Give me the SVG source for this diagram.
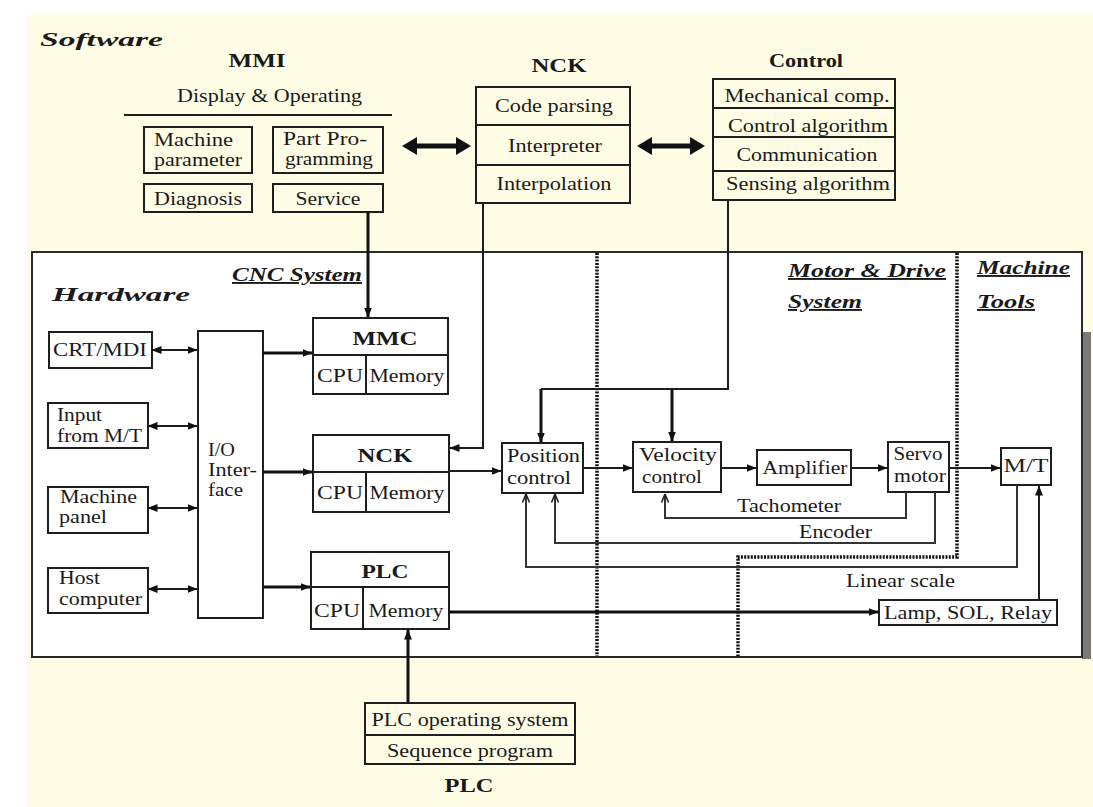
<svg xmlns="http://www.w3.org/2000/svg" width="1093" height="807" viewBox="0 0 1093 807">
<style>
.t{font-family:"Liberation Serif","Times New Roman",serif;font-size:19px;fill:#1a1a1a}
.c{text-anchor:middle}
.b{font-weight:bold}
.bi{font-weight:bold;font-style:italic}
.u{text-decoration:underline}
.box{fill:#fff;stroke:#1e1e1e;stroke-width:2}
.sbox{fill:none;stroke:#1e1e1e;stroke-width:2}
.ln{fill:none;stroke:#1e1e1e;stroke-width:2}
.thk{fill:none;stroke:#111;stroke-width:3}
.fb{fill:none;stroke:#333;stroke-width:2}
.dot{fill:none;stroke:#111;stroke-width:3.5;stroke-dasharray:2 1.3}
</style>
<defs>
<marker id="ah" viewBox="0 0 10 10" refX="9.5" refY="5" markerWidth="10" markerHeight="10" markerUnits="userSpaceOnUse" orient="auto-start-reverse"><path d="M0,1 L10,5 L0,9 z" fill="#111"/></marker>
<marker id="oh" viewBox="0 0 10 10" refX="9.5" refY="5" markerWidth="10" markerHeight="10" markerUnits="userSpaceOnUse" orient="auto"><path d="M1,1.5 L9.5,5 L1,8.5" fill="none" stroke="#222" stroke-width="1.6"/></marker>
</defs>
<rect x="0" y="0" width="1093" height="807" fill="#ffffff"/>
<rect x="27" y="14" width="1066" height="793" fill="#fffde6"/>

<g id="software-title"><text class="t bi" x="40" y="46" font-size="30" textLength="123" lengthAdjust="spacingAndGlyphs">Software</text></g>

<g id="mmi">
<text class="t b c" x="257" y="67" font-size="21" textLength="57" lengthAdjust="spacingAndGlyphs">MMI</text>
<text class="t" x="177" y="102" textLength="185" lengthAdjust="spacingAndGlyphs">Display &amp; Operating</text>
<line class="ln" x1="124" y1="115" x2="392" y2="115"/>
<g id="mmi-machine-parameter"><rect class="sbox" x="144" y="127" width="108" height="46"/>
<text class="t" x="154" y="146" font-size="17" textLength="79" lengthAdjust="spacingAndGlyphs">Machine</text>
<text class="t" x="154" y="166" font-size="17" textLength="88" lengthAdjust="spacingAndGlyphs">parameter</text></g>
<g id="mmi-part-programming"><rect class="sbox" x="273" y="127" width="110" height="46"/>
<text class="t" x="283" y="145" font-size="17" textLength="84" lengthAdjust="spacingAndGlyphs">Part Pro-</text>
<text class="t" x="285" y="165" font-size="17" textLength="88" lengthAdjust="spacingAndGlyphs">gramming</text></g>
<g id="mmi-diagnosis"><rect class="sbox" x="144" y="184" width="108" height="28"/>
<text class="t c" x="198" y="205" font-size="18" textLength="88" lengthAdjust="spacingAndGlyphs">Diagnosis</text></g>
<g id="mmi-service"><rect class="sbox" x="273" y="184" width="110" height="28"/>
<text class="t c" x="328" y="205" font-size="18" textLength="65" lengthAdjust="spacingAndGlyphs">Service</text></g>
</g>

<g id="nck-sw">
<text class="t b c" x="559" y="72" font-size="21" textLength="55" lengthAdjust="spacingAndGlyphs">NCK</text>
<rect class="sbox" x="476" y="87" width="154" height="116"/>
<line class="ln" x1="476" y1="125" x2="630" y2="125"/>
<line class="ln" x1="476" y1="165" x2="630" y2="165"/>
<text class="t c" x="554" y="112" textLength="118" lengthAdjust="spacingAndGlyphs">Code parsing</text>
<text class="t c" x="555" y="152" textLength="94" lengthAdjust="spacingAndGlyphs">Interpreter</text>
<text class="t c" x="554" y="190" textLength="115" lengthAdjust="spacingAndGlyphs">Interpolation</text>
</g>

<g id="control-sw">
<text class="t b c" x="806" y="67" font-size="19" textLength="74" lengthAdjust="spacingAndGlyphs">Control</text>
<rect class="sbox" x="713" y="79" width="182" height="121"/>
<line class="ln" x1="713" y1="108" x2="895" y2="108"/>
<line class="ln" x1="713" y1="137" x2="895" y2="137"/>
<line class="ln" x1="713" y1="171" x2="895" y2="171"/>
<text class="t c" x="807" y="102" font-size="18" textLength="165" lengthAdjust="spacingAndGlyphs">Mechanical comp.</text>
<text class="t c" x="808" y="132" font-size="18" textLength="160" lengthAdjust="spacingAndGlyphs">Control algorithm</text>
<text class="t c" x="807" y="161" font-size="18" textLength="141" lengthAdjust="spacingAndGlyphs">Communication</text>
<text class="t c" x="808" y="190" font-size="18" textLength="164" lengthAdjust="spacingAndGlyphs">Sensing algorithm</text>
</g>

<g id="hardware-frame">
<rect x="1082" y="332" width="9" height="327" fill="#7a7a7a"/>
<rect x="32" y="252" width="1050" height="405" fill="#ffffff" stroke="#2a2a2a" stroke-width="2"/>
<text class="t bi" x="52" y="301" font-size="30" textLength="138" lengthAdjust="spacingAndGlyphs">Hardware</text>
<text class="t bi u" x="232" y="281" font-size="20" textLength="130" lengthAdjust="spacingAndGlyphs">CNC System</text>
<text class="t bi u" x="788" y="277" font-size="20" textLength="158" lengthAdjust="spacingAndGlyphs">Motor &amp; Drive</text>
<text class="t bi u" x="788" y="308" font-size="20" textLength="74" lengthAdjust="spacingAndGlyphs">System</text>
<text class="t bi u" x="977" y="274" font-size="20" textLength="93" lengthAdjust="spacingAndGlyphs">Machine</text>
<text class="t bi u" x="977" y="308" font-size="20" textLength="58" lengthAdjust="spacingAndGlyphs">Tools</text>
</g>

<g id="dividers">
<line class="dot" x1="597" y1="253" x2="597" y2="656"/>
<polyline class="dot" points="957,253 957,557 738,557 738,656"/>
</g>

<g id="crt-mdi"><rect class="box" x="49" y="332" width="103" height="36"/>
<text class="t" x="53" y="356" font-size="18" textLength="94" lengthAdjust="spacingAndGlyphs">CRT/MDI</text></g>
<g id="input-mt"><rect class="box" x="48" y="403" width="100" height="45"/>
<text class="t" x="57" y="421" font-size="16" textLength="45" lengthAdjust="spacingAndGlyphs">Input</text>
<text class="t" x="57" y="442" font-size="16" textLength="85" lengthAdjust="spacingAndGlyphs">from M/T</text></g>
<g id="machine-panel"><rect class="box" x="48" y="487" width="100" height="46"/>
<text class="t" x="60" y="503" font-size="16" textLength="77" lengthAdjust="spacingAndGlyphs">Machine</text>
<text class="t" x="59" y="523" font-size="16" textLength="48" lengthAdjust="spacingAndGlyphs">panel</text></g>
<g id="host-computer"><rect class="box" x="48" y="568" width="100" height="45"/>
<text class="t" x="59" y="584" font-size="16" textLength="41" lengthAdjust="spacingAndGlyphs">Host</text>
<text class="t" x="59" y="605" font-size="16" textLength="83" lengthAdjust="spacingAndGlyphs">computer</text></g>

<g id="io-interface"><rect class="box" x="198" y="331" width="65" height="287"/>
<text class="t" x="208" y="456" font-size="17" textLength="27" lengthAdjust="spacingAndGlyphs">I/O</text>
<text class="t" x="208" y="476" font-size="17" textLength="49" lengthAdjust="spacingAndGlyphs">Inter-</text>
<text class="t" x="208" y="496" font-size="17" textLength="35" lengthAdjust="spacingAndGlyphs">face</text></g>

<g id="mmc"><rect class="box" x="313" y="318" width="135" height="76"/>
<line class="ln" x1="313" y1="355" x2="448" y2="355"/>
<line class="ln" x1="366" y1="355" x2="366" y2="394"/>
<text class="t b c" x="385" y="345" font-size="21" textLength="65" lengthAdjust="spacingAndGlyphs">MMC</text>
<text class="t c" x="340" y="382" font-size="18" textLength="46" lengthAdjust="spacingAndGlyphs">CPU</text>
<text class="t c" x="407" y="382" font-size="18" textLength="75" lengthAdjust="spacingAndGlyphs">Memory</text></g>

<g id="nck-hw"><rect class="box" x="313" y="435" width="136" height="77"/>
<line class="ln" x1="313" y1="472" x2="449" y2="472"/>
<line class="ln" x1="366" y1="472" x2="366" y2="512"/>
<text class="t b c" x="385" y="462" font-size="21" textLength="55" lengthAdjust="spacingAndGlyphs">NCK</text>
<text class="t c" x="340" y="499" font-size="18" textLength="46" lengthAdjust="spacingAndGlyphs">CPU</text>
<text class="t c" x="407" y="499" font-size="18" textLength="75" lengthAdjust="spacingAndGlyphs">Memory</text></g>

<g id="plc-hw"><rect class="box" x="311" y="552" width="138" height="77"/>
<line class="ln" x1="311" y1="587" x2="449" y2="587"/>
<line class="ln" x1="363" y1="587" x2="363" y2="629"/>
<text class="t b c" x="385" y="578" font-size="21" textLength="47" lengthAdjust="spacingAndGlyphs">PLC</text>
<text class="t c" x="337" y="617" font-size="18" textLength="46" lengthAdjust="spacingAndGlyphs">CPU</text>
<text class="t c" x="406" y="617" font-size="18" textLength="75" lengthAdjust="spacingAndGlyphs">Memory</text></g>

<g id="position-control"><rect class="box" x="502" y="443" width="81" height="50"/>
<text class="t" x="507" y="462" font-size="17" textLength="73" lengthAdjust="spacingAndGlyphs">Position</text>
<text class="t" x="507" y="484" font-size="17" textLength="64" lengthAdjust="spacingAndGlyphs">control</text></g>
<g id="velocity-control"><rect class="box" x="633" y="442" width="88" height="50"/>
<text class="t" x="639" y="461" font-size="17" textLength="78" lengthAdjust="spacingAndGlyphs">Velocity</text>
<text class="t" x="642" y="483" font-size="17" textLength="60" lengthAdjust="spacingAndGlyphs">control</text></g>
<g id="amplifier"><rect class="box" x="757" y="450" width="94" height="35"/>
<text class="t c" x="805" y="474" font-size="18" textLength="85" lengthAdjust="spacingAndGlyphs">Amplifier</text></g>
<g id="servo-motor"><rect class="box" x="888" y="442" width="61" height="50"/>
<text class="t c" x="918" y="460" font-size="17" textLength="49" lengthAdjust="spacingAndGlyphs">Servo</text>
<text class="t c" x="920" y="482" font-size="17" textLength="52" lengthAdjust="spacingAndGlyphs">motor</text></g>
<g id="mt"><rect class="box" x="1001" y="448" width="50" height="37"/>
<text class="t c" x="1026" y="472" font-size="18" textLength="45" lengthAdjust="spacingAndGlyphs">M/T</text></g>
<g id="lamp-sol-relay"><rect class="box" x="879" y="600" width="178" height="25"/>
<text class="t c" x="968" y="619" font-size="18" textLength="168" lengthAdjust="spacingAndGlyphs">Lamp, SOL, Relay</text></g>

<g id="plc-sw"><rect class="sbox" x="365" y="703" width="210" height="61"/>
<line class="ln" x1="365" y1="735" x2="575" y2="735"/>
<text class="t c" x="470" y="726" font-size="18" textLength="197" lengthAdjust="spacingAndGlyphs">PLC operating system</text>
<text class="t c" x="470" y="757" font-size="18" textLength="166" lengthAdjust="spacingAndGlyphs">Sequence program</text>
<text class="t b c" x="469" y="792" font-size="21" textLength="49" lengthAdjust="spacingAndGlyphs">PLC</text></g>

<g id="connectors">
<line x1="414" y1="146" x2="459" y2="146" stroke="#111" stroke-width="5"/>
<polygon points="402,146 417,137 417,155" fill="#111"/>
<polygon points="471,146 456,137 456,155" fill="#111"/>
<line x1="649" y1="146" x2="693" y2="146" stroke="#111" stroke-width="5"/>
<polygon points="637,146 652,137 652,155" fill="#111"/>
<polygon points="705,146 690,137 690,155" fill="#111"/>

<line class="thk" x1="368" y1="212" x2="368" y2="317" marker-end="url(#ah)"/>
<polyline class="ln" points="483,203 483,448 450,448" marker-end="url(#ah)"/>
<polyline class="ln" points="728,200 728,389 541,389"/>
<line class="thk" x1="541" y1="389" x2="541" y2="442" marker-end="url(#ah)"/>
<line class="thk" x1="672" y1="389" x2="672" y2="441" marker-end="url(#ah)"/>

<line class="ln" x1="152" y1="350" x2="197" y2="350" marker-start="url(#ah)" marker-end="url(#ah)"/>
<line class="ln" x1="148" y1="426" x2="197" y2="426" marker-start="url(#ah)" marker-end="url(#ah)"/>
<line class="ln" x1="148" y1="508" x2="197" y2="508" marker-start="url(#ah)" marker-end="url(#ah)"/>
<line class="ln" x1="148" y1="589" x2="197" y2="589" marker-start="url(#ah)" marker-end="url(#ah)"/>

<line class="thk" x1="263" y1="353" x2="312" y2="353" marker-end="url(#ah)"/>
<line class="thk" x1="263" y1="472" x2="312" y2="472" marker-end="url(#ah)"/>
<line class="thk" x1="263" y1="587" x2="310" y2="587" marker-end="url(#ah)"/>

<line class="ln" x1="449" y1="471" x2="501" y2="471" marker-end="url(#ah)"/>
<line class="ln" x1="583" y1="468" x2="632" y2="468" marker-end="url(#ah)"/>
<line class="ln" x1="721" y1="468" x2="756" y2="468" marker-end="url(#ah)"/>
<line class="ln" x1="851" y1="468" x2="887" y2="468" marker-end="url(#ah)"/>
<line class="ln" x1="949" y1="468" x2="1000" y2="468" marker-end="url(#ah)"/>

<polyline class="fb" points="906,492 906,518 665,518 665,494" marker-end="url(#oh)"/>
<polyline class="fb" points="935,492 935,543 555,543 555,494" marker-end="url(#oh)"/>
<polyline class="fb" points="1017,485 1017,567 526,567 526,494" marker-end="url(#oh)"/>
<line class="ln" x1="1039" y1="600" x2="1039" y2="486" marker-end="url(#ah)"/>
<line class="thk" x1="449" y1="612" x2="878" y2="612" marker-end="url(#ah)"/>
<line class="thk" x1="408" y1="703" x2="408" y2="630" marker-end="url(#ah)"/>
</g>

<g id="connector-labels">
<text class="t" x="737" y="512" font-size="18" textLength="104" lengthAdjust="spacingAndGlyphs">Tachometer</text>
<text class="t" x="799" y="538" font-size="18" textLength="73" lengthAdjust="spacingAndGlyphs">Encoder</text>
<text class="t" x="846" y="587" font-size="18" textLength="109" lengthAdjust="spacingAndGlyphs">Linear scale</text>
</g>
</svg>
